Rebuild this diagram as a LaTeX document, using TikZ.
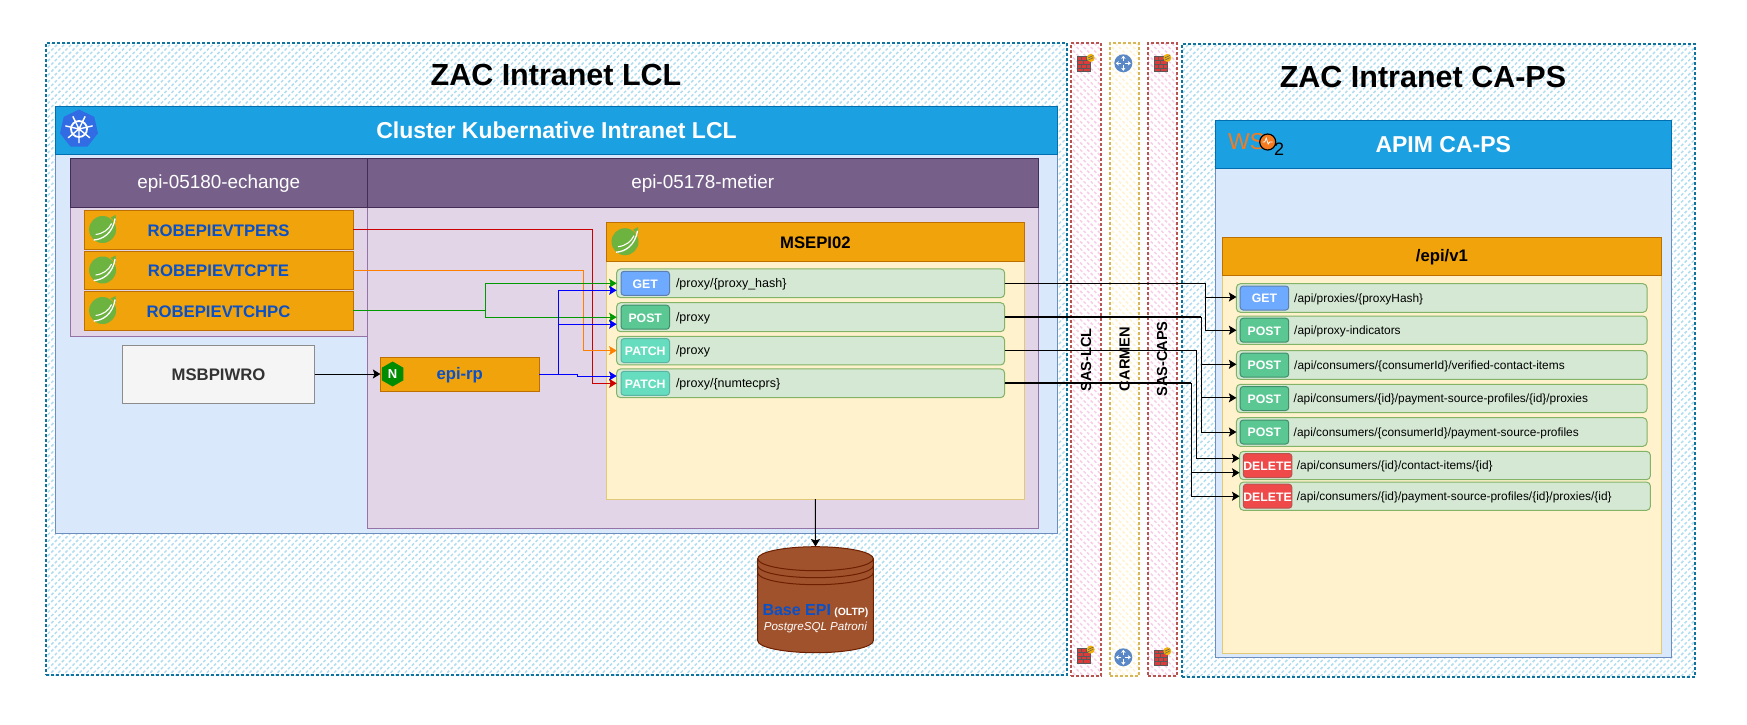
\documentclass[tikz,border=0pt]{standalone}
\usepackage{fontspec}
\setmainfont{Liberation Sans}
\usepackage{tikz}
\usetikzlibrary{calc,positioning,arrows.meta,patterns.meta,shapes.geometric}

\definecolor{zoneblue}{HTML}{10739E}
\definecolor{hatchblue}{HTML}{B1DDF0}
\definecolor{zonered}{HTML}{B85450}
\definecolor{hatchpink}{HTML}{F8CDE8}
\definecolor{zoneyellow}{HTML}{D6B656}
\definecolor{hatchyellow}{HTML}{FFF2CC}
\definecolor{lightblue}{HTML}{DAE8FC}
\definecolor{lightblueline}{HTML}{6C8EBF}
\definecolor{headblue}{HTML}{1BA1E2}
\definecolor{headblueline}{HTML}{006EAF}
\definecolor{poolfill}{HTML}{E1D5E7}
\definecolor{poolline}{HTML}{9673A6}
\definecolor{poolhead}{HTML}{76608A}
\definecolor{poolheadline}{HTML}{432D57}
\definecolor{amber}{HTML}{F0A30A}
\definecolor{amberline}{HTML}{BD7000}
\definecolor{cream}{HTML}{FFF2CC}
\definecolor{creamline}{HTML}{E3C878}
\definecolor{rowgreen}{HTML}{D5E8D4}
\definecolor{rowgreenline}{HTML}{82B366}
\definecolor{textblue}{HTML}{0A50C8}
\definecolor{dbbrown}{HTML}{A0522D}
\definecolor{dbline}{HTML}{6D1F00}
\definecolor{springgreen}{HTML}{6DB33F}
\definecolor{routerblue}{HTML}{5A87C6}
\definecolor{wsorange}{HTML}{F47B20}
\definecolor{k8sblue}{HTML}{326CE5}
\definecolor{brickred}{HTML}{DC3B3B}
\definecolor{getfill}{HTML}{6EAAFF}
\definecolor{getline}{HTML}{5C7FB0}
\definecolor{postfill}{HTML}{5BC894}
\definecolor{postline}{HTML}{3F8F6A}
\definecolor{patchfill}{HTML}{66DDBE}
\definecolor{patchline}{HTML}{5AB4A0}
\definecolor{delfill}{HTML}{F0494A}
\definecolor{delline}{HTML}{B85450}

\newcommand{\fsz}[1]{\fontsize{#1}{#1}\selectfont}

\tikzset{
    box/.style={draw,rectangle,anchor=north west,inner sep=0pt,outer sep=0pt,line width=1pt},
    zone/.style={box,densely dashed,line width=1.2pt,draw=zoneblue,pattern={Lines[angle=45,distance=5pt,line width=1.5pt]},pattern color=hatchblue},
    wallzone/.style={box,densely dashed,line width=1.2pt,draw=zonered,pattern={Lines[angle=-45,distance=5pt,line width=1.5pt]},pattern color=hatchpink},
    netzone/.style={box,densely dashed,line width=1.2pt,draw=zoneyellow,pattern={Lines[angle=-45,distance=5pt,line width=1.5pt]},pattern color=hatchyellow},
    bluepane/.style={box,draw=lightblueline,fill=lightblue},
    bluehead/.style={box,draw=headblueline,fill=headblue,text=white,font=\fsz{23}\bfseries},
    poolbody/.style={box,draw=poolline,fill=poolfill},
    poolcap/.style={box,draw=poolheadline,fill=poolhead,text=white,font=\fsz{18.9},text height=16pt},
    svcbox/.style={box,draw=amberline,fill=amber,text=textblue,font=\fsz{16.7}\bfseries,text height=13.5pt},
    apibody/.style={box,draw=creamline,fill=cream},
    apicap/.style={box,draw=amberline,fill=amber,text=black,font=\fsz{16.7}\bfseries,text height=13.5pt},
    apirow/.style={box,rounded corners=4pt,draw=rowgreenline,fill=rowgreen,anchor=west},
    badge/.style={box,rounded corners=3pt,anchor=west,text=white,font=\fsz{12.3}\bfseries,text height=10pt,minimum height=24pt,minimum width=48.5pt},
    getbadge/.style={badge,fill=getfill,draw=getline},
    postbadge/.style={badge,fill=postfill,draw=postline},
    patchbadge/.style={badge,fill=patchfill,draw=patchline},
    delbadge/.style={badge,fill=delfill,draw=delline},
    pathtext/.style={inner sep=0pt,outer sep=0pt,font=\fsz{12.5},text height=11pt},
    apitext/.style={inner sep=0pt,outer sep=0pt,font=\fsz{11.9},text height=10.5pt},
    sidetext/.style={rotate=90,inner sep=0pt,font=\fsz{14.6}\bfseries},
    redline/.style={->,line width=1pt,draw=red!80!black},
    orangeline/.style={->,line width=1pt,draw=orange!100!red},
    greenline/.style={->,line width=1pt,draw=green!60!black},
    blueline/.style={->,line width=1pt,draw=blue},
    blackline/.style={->,line width=1pt,draw=black},
    springicon/.pic={
        \fill[springgreen] (0,0) circle[radius=13.5];
        \fill[springgreen] (8,-12) -- (13,-14.5) -- (13.5,-7) -- cycle;
        \draw[white,line width=1.3pt] (-9,10.5) .. controls (0,10) and (10,4) .. (12.5,-11);
        \draw[white,line width=1.1pt] (-7,5) .. controls (1,4) and (6,0) .. (9,-6);
    },
    wallicon/.pic={
        \fill[brickred] (0,0) rectangle (12.5,15);
        \draw[black!65,line width=0.5pt] (0,0) rectangle (12.5,15) (0,3.7) -- (12.5,3.7) (0,7.5) -- (12.5,7.5) (0,11.2) -- (12.5,11.2) (4,0) -- (4,3.7) (9,0) -- (9,3.7) (6,3.7) -- (6,7.5) (4,7.5) -- (4,11.2) (9,7.5) -- (9,11.2) (6,11.2) -- (6,15);
        \fill[amber!85!yellow] (13,1.2) circle[radius=4];
        \draw[black!60,line width=0.6pt] (10.5,1.2) -- (15.5,-1.2) (10.5,3.4) -- (15.5,1);
    },
    routericon/.pic={
        \fill[routerblue] (0,0) circle[radius=9];
        \draw[white,line width=1.3pt,-{Stealth[length=3pt,width=4.5pt]}] (0,-2) -- (0,-7.5);
        \draw[white,line width=1.3pt,-{Stealth[length=3pt,width=4.5pt]}] (0,2) -- (0,7.5);
        \draw[white,line width=1.3pt,-{Stealth[length=3pt,width=4.5pt]}] (2,0) -- (7.5,0);
        \draw[white,line width=1.3pt,-{Stealth[length=3pt,width=4.5pt]}] (-2,0) -- (-7.5,0);
    }
}

\begin{document}
\begin{tikzpicture}[x=1pt,y=-1pt,>={Stealth[length=7.5pt,width=9pt,inset=1.5pt]}]
    \useasboundingbox (0,0) rectangle (1747,724);
    % zones
    \node[zone,minimum width=1021pt,minimum height=632pt] (zac_lcl) at (46,43) {};
    \node[wallzone,minimum width=30pt,minimum height=633pt] (sas_lcl) at (1071,43) {};
    \node[netzone,minimum width=29pt,minimum height=633pt] (carmen) at (1110,43) {};
    \node[wallzone,minimum width=29pt,minimum height=633pt] (sas_caps) at (1148,43) {};
    \node[zone,minimum width=513pt,minimum height=633pt] (zac_caps) at (1182,44) {};
    \node[font=\fsz{30.5}\bfseries,inner sep=0pt] (zac_lcl_title) at (556,75) {ZAC Intranet LCL};
    \node[font=\fsz{30.5}\bfseries,inner sep=0pt] (zac_caps_title) at (1423,77) {ZAC Intranet CA-PS};
    \node[sidetext] (sas_lcl_text) at (1086,360) {SAS-LCL};
    \node[sidetext] (carmen_text) at (1124.5,359) {CARMEN};
    \node[sidetext] (sas_caps_text) at (1162,359) {SAS-CAPS};
    \pic at (1077.7,56.7) {wallicon};
    \pic at (1154.3,56.7) {wallicon};
    \pic at (1077.7,648.3) {wallicon};
    \pic at (1154.3,650) {wallicon};
    \pic at (1123.3,63.3) {routericon};
    \pic at (1123.3,657.3) {routericon};
    %
    % cluster
    \node[bluepane,minimum width=1002pt,minimum height=427pt] (cluster) at (55.5,106) {};
    \node[bluehead,minimum width=1002pt,minimum height=48pt] (cluster_head) at (55.5,106) {Cluster Kubernative Intranet LCL};
    \node[regular polygon,regular polygon sides=7,fill=k8sblue,minimum size=39pt,inner sep=0pt] (k8s_icon) at (79,129) {};
    \draw[white,line width=1.8pt] (k8s_icon.center) circle[radius=8];
    \draw[white,line width=1.4pt] (k8s_icon.center) -- ++(90:14) (k8s_icon.center) -- ++(141:14) (k8s_icon.center) -- ++(193:14) (k8s_icon.center) -- ++(244:14) (k8s_icon.center) -- ++(296:14) (k8s_icon.center) -- ++(347:14) (k8s_icon.center) -- ++(39:14);
    %
    \node[poolbody,minimum width=297.4pt,minimum height=177.3pt] (echange) at (70,158.7) {};
    \node[poolcap,minimum width=297.4pt,minimum height=48.3pt] (echange_head) at (70,158.7) {epi-05180-echange};
    \node[poolbody,minimum width=670.6pt,minimum height=369.3pt] (metier) at (367.4,158.7) {};
    \node[poolcap,minimum width=670.6pt,minimum height=48.3pt] (metier_head) at (367.4,158.7) {epi-05178-metier};
    %
    \node[svcbox,minimum width=269pt,minimum height=39pt] (evtpers) at (84,210) {ROBEPIEVTPERS};
    \node[svcbox,minimum width=269pt,minimum height=38.5pt] (evtcpte) at (84,251) {ROBEPIEVTCPTE};
    \node[svcbox,minimum width=269pt,minimum height=39pt] (evtchpc) at (84,291) {ROBEPIEVTCHPC};
    \pic at (102.6,229.5) {springicon};
    \pic at (102.6,270) {springicon};
    \pic at (102.6,310.5) {springicon};
    \node[box,draw=black!45,fill=black!4,text=black!80,font=\fsz{16.7}\bfseries,text height=13.5pt,minimum width=192pt,minimum height=58pt] (msbpiwro) at (122.5,345) {MSBPIWRO};
    \node[svcbox,text height=15pt,minimum width=158.6pt,minimum height=34pt] (epi_rp) at (380.4,357) {epi-rp};
    \node[regular polygon,regular polygon sides=6,shape border rotate=30,fill=green!55!black,text=white,font=\fsz{13}\bfseries,minimum size=25pt,inner sep=0pt] (nginx_icon) at (392.6,374) {N};
    %
    % MSEPI02
    \node[apibody,minimum width=417.3pt,minimum height=276.3pt] (msepi) at (606.7,222.7) {};
    \node[apicap,minimum width=417.3pt,minimum height=39pt] (msepi_head) at (606.7,222.7) {MSEPI02};
    \pic at (625,241.7) {springicon};
    \node[apirow,minimum width=388pt,minimum height=28.7pt] (msepi_get) at (616.6,283.3) {};
    \node[apirow,minimum width=388pt,minimum height=29pt] (msepi_post) at (616.6,317.2) {};
    \node[apirow,minimum width=388pt,minimum height=28.7pt] (msepi_patch) at (616.6,350.6) {};
    \node[apirow,minimum width=388pt,minimum height=28.7pt] (msepi_numtec) at (616.6,383.3) {};
    \node[getbadge,right=4.4pt of msepi_get.west] (msepi_get_b) {GET};
    \node[postbadge,right=4.4pt of msepi_post.west] (msepi_post_b) {POST};
    \node[patchbadge,right=4.4pt of msepi_patch.west] (msepi_patch_b) {PATCH};
    \node[patchbadge,right=4.4pt of msepi_numtec.west] (msepi_numtec_b) {PATCH};
    \node[pathtext,right=6.5pt of msepi_get_b] (msepi_get_t) {/proxy/\{proxy\_hash\}};
    \node[pathtext,right=6.5pt of msepi_post_b] (msepi_post_t) {/proxy};
    \node[pathtext,right=6.5pt of msepi_patch_b] (msepi_patch_t) {/proxy};
    \node[pathtext,right=6.5pt of msepi_numtec_b] (msepi_numtec_t) {/proxy/\{numtecprs\}};
    %
    % database
    \draw[draw=dbline,fill=dbbrown,line width=1pt] (757.7,558.7) arc[start angle=180,end angle=360,x radius=57.8,y radius=12] -- (873.3,640.7) arc[start angle=0,end angle=180,x radius=57.8,y radius=12] -- cycle;
    \draw[draw=dbline,line width=1pt] (757.7,558.7) arc[start angle=180,end angle=0,x radius=57.8,y radius=12];
    \draw[draw=dbline,line width=1pt] (757.7,565.7) arc[start angle=180,end angle=0,x radius=57.8,y radius=12];
    \draw[draw=dbline,line width=1pt] (757.7,572.7) arc[start angle=180,end angle=0,x radius=57.8,y radius=12];
    \node[inner sep=0pt,minimum width=115.6pt,minimum height=106pt] (base_epi) at (815.5,599.7) {};
    \node[inner sep=0pt,align=center,text=white,font=\fsz{11.6}] (base_epi_text) at ($(base_epi.center)+(0,19)$) {{\fsz{16}\bfseries\color{textblue}Base EPI} {\fsz{10.5}\bfseries(OLTP)}\\[3pt]\textit{PostgreSQL Patroni}};
    %
    % APIM
    \node[bluepane,minimum width=455.5pt,minimum height=536.3pt] (apim) at (1215.5,120.7) {};
    \node[bluehead,minimum width=455.5pt,minimum height=47.6pt] (apim_head) at (1215.5,120.7) {APIM CA-PS};
    \node[text=wsorange,font=\fsz{23},inner sep=0pt,anchor=west] (wso_text) at (1228,142) {WS};
    \node[circle,fill=wsorange,draw=black,line width=1.2pt,minimum size=16pt,inner sep=0pt] (wso_dot) at (1267.7,142) {};
    \draw[white,line width=0.8pt] ($(wso_dot.center)+(-5,0)$) -- ++(2,0) -- ++(1.5,-4) -- ++(2,6) -- ++(1.5,-2) -- ++(3,0);
    \node[font=\fsz{18},inner sep=0pt] (wso_two) at (1279,149) {2};
    %
    \node[apibody,minimum width=439pt,minimum height=415.7pt] (epi_v1) at (1222.4,237.3) {};
    \node[apicap,minimum width=439pt,minimum height=38.4pt] (epi_v1_head) at (1222.4,237.3) {/epi/v1};
    \node[apirow,minimum width=410.6pt,minimum height=28.6pt] (api_get) at (1236.4,298) {};
    \node[apirow,minimum width=410.6pt,minimum height=28.4pt] (api_indic) at (1236.4,330.2) {};
    \node[apirow,minimum width=410.6pt,minimum height=28.6pt] (api_verif) at (1236.4,365) {};
    \node[apirow,minimum width=410.6pt,minimum height=28.4pt] (api_prox) at (1236.4,398.5) {};
    \node[apirow,minimum width=410.6pt,minimum height=28.6pt] (api_prof) at (1236.4,432) {};
    \node[apirow,minimum width=410.9pt,minimum height=28.4pt] (api_delitem) at (1239.5,465.5) {};
    \node[apirow,minimum width=410.9pt,minimum height=28.3pt] (api_delprox) at (1239.5,496.2) {};
    \node[getbadge,right=3.8pt of api_get.west] (api_get_b) {GET};
    \node[postbadge,right=3.8pt of api_indic.west] (api_indic_b) {POST};
    \node[postbadge,right=3.8pt of api_verif.west] (api_verif_b) {POST};
    \node[postbadge,right=3.8pt of api_prox.west] (api_prox_b) {POST};
    \node[postbadge,right=3.8pt of api_prof.west] (api_prof_b) {POST};
    \node[delbadge,right=3.8pt of api_delitem.west] (api_delitem_b) {DELETE};
    \node[delbadge,right=3.8pt of api_delprox.west] (api_delprox_b) {DELETE};
    \node[apitext,right=5.5pt of api_get_b] (api_get_t) {/api/proxies/\{proxyHash\}};
    \node[apitext,right=5.5pt of api_indic_b] (api_indic_t) {/api/proxy-indicators};
    \node[apitext,right=5.5pt of api_verif_b] (api_verif_t) {/api/consumers/\{consumerId\}/verified-contact-items};
    \node[apitext,right=5pt of api_prox_b] (api_prox_t) {/api/consumers/\{id\}/payment-source-profiles/\{id\}/proxies};
    \node[apitext,right=5pt of api_prof_b] (api_prof_t) {/api/consumers/\{consumerId\}/payment-source-profiles};
    \node[apitext,right=5pt of api_delitem_b] (api_delitem_t) {/api/consumers/\{id\}/contact-items/\{id\}};
    \node[apitext,right=5pt of api_delprox_b] (api_delprox_t) {/api/consumers/\{id\}/payment-source-profiles/\{id\}/proxies/\{id\}};
    %
    % connectors
    \draw[redline] (evtpers.east) -| ($(msepi_numtec.west)+(-24.2,0)$) -- (msepi_numtec.west);
    \draw[orangeline] (evtcpte.east) -| ($(msepi_patch.west)+(-33.6,0)$) -- (msepi_patch.west);
    \draw[greenline] (evtchpc.east) -- ++(132,0) |- (msepi_get.west);
    \draw[greenline] (evtchpc.east) -- ++(132,0) |- (msepi_post.west);
    \draw[green!60!black,line width=1.6pt] (evtchpc.east) -- ++(132,0);
    \draw[blueline] (epi_rp.east) -- ++(19.7,0) |- ($(msepi_get.west)+(0,7)$);
    \draw[blueline] (epi_rp.east) -- ++(19.7,0) |- ($(msepi_post.west)+(0,7)$);
    \draw[blueline] (epi_rp.east) -- ++(38,0) |- ($(msepi_numtec.west)+(0,-7.3)$);
    \draw[blackline] (msbpiwro.east) -- (epi_rp.west);
    \draw[blackline] (msepi.south) -- (base_epi.north);
    %
    \draw[blackline] (msepi_get.east) -- ++(201.3,0) |- ($(api_get.west)+(0,-1)$);
    \draw[blackline] (msepi_get.east) -- ++(201.3,0) |- (api_indic.west);
    \draw[blackline] (msepi_post.east) -- ++(196.7,0) |- ($(api_verif.west)+(0,-0.7)$);
    \draw[blackline] (msepi_post.east) -- ++(196.7,0) |- ($(api_prox.west)+(0,-0.7)$);
    \draw[blackline] (msepi_post.east) -- ++(196.7,0) |- (api_prof.west);
    \draw[black,line width=1.8pt] (msepi_post.east) -- ++(196.7,0);
    \draw[blackline] (msepi_patch.east) -- ++(191.8,0) |- ($(api_delitem.west)+(0,-7.2)$);
    \draw[blackline] (msepi_numtec.east) -- ++(186.8,0) |- ($(api_delitem.west)+(0,7.2)$);
    \draw[blackline] (msepi_numtec.east) -- ++(186.8,0) |- (api_delprox.west);
    \draw[black,line width=1.8pt] (msepi_numtec.east) -- ++(186.8,0);
\end{tikzpicture}
\end{document}
